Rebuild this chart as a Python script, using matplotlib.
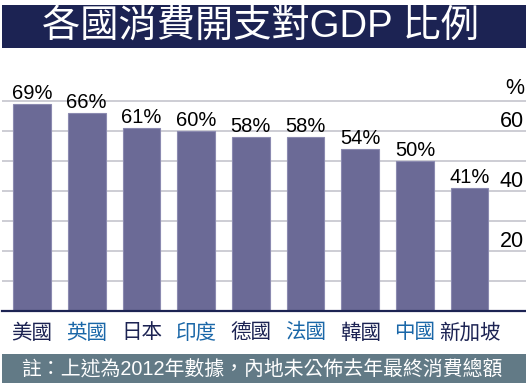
import matplotlib.pyplot as plt
from matplotlib.patches import Rectangle
from matplotlib.transforms import blended_transform_factory

# data
countries = ['美國', '英國', '日本', '印度', '德國', '法國', '韓國', '中國', '新加坡']
shares = [69, 66, 61, 60, 58, 58, 54, 50, 41]
grid_levels = [10, 20, 30, 40, 50, 60, 70]
tick_labels = [20, 40, 60]

title = '各國消費開支對GDP 比例'
note = '註：上述為2012年數據，內地未公佈去年最終消費總額'

cjk = ['Liberation Sans', 'Noto Sans CJK TC', 'DejaVu Sans']
latin = ['Liberation Sans', 'DejaVu Sans']
navy = '#1c2353'
blue = '#1a67a8'

W, H = 526, 386
fig = plt.figure(figsize=(W / 100, H / 100), dpi=100)
fig.patch.set_facecolor('white')

# title banner and footer band, in pixel terms
def px_rect(x0, y0, x1, y1, color):
  fig.patches.append(Rectangle((x0 / W, 1 - y1 / H), (x1 - x0) / W, (y1 - y0) / H,
                               transform=fig.transFigure, facecolor=color,
                               edgecolor='none', zorder=0))

px_rect(2, 5, 526, 48, navy)
px_rect(2, 354, 526, 383, '#627a86')
fig.text(261 / W, 1 - 27 / H, title, color='white', fontsize=27.5,
         family=cjk, ha='center', va='center')
fig.text(262 / W, 1 - 368.5 / H, note, color='white', fontsize=14.3,
         family=cjk, ha='center', va='center')

# axes: baseline at y=311px, 3px per percentage point
top_px = 60
ax = fig.add_axes([2 / W, (H - 311) / H, 524 / W, (311 - top_px) / H])
ax.set_ylim(0, (311 - top_px) / 3)
ax.set_xlim(-0.548, -0.548 + 524 / 54.7)

for lv in grid_levels:
  ax.axhline(lv, color='#c9c9d1', lw=1.3, zorder=1)

x = list(range(len(countries)))
ax.bar(x, shares, width=0.69, color='#6b6a96', edgecolor='#8b8ab0',
       linewidth=0.8, zorder=2)

for xi, v in zip(x, shares):
  ax.text(xi, v + 1.7, f'{v}%', ha='center', va='baseline', fontsize=14.5,
          family=latin, color='black')

trans = blended_transform_factory(ax.transAxes, ax.transData)
for t in tick_labels:
  ax.text(0.996, t + 1.3, str(t), transform=trans, ha='right', va='baseline',
          fontsize=15.5, family=latin)
ax.text(0.996, 72.5, '%', transform=trans, ha='right', va='baseline',
        fontsize=15.5, family=latin)

for xi, name in zip(x, countries):
  ax.text(xi, -7.3, name, ha='center', va='center', fontsize=14.8, family=cjk,
          color=blue if xi % 2 else navy, clip_on=False)

for side in ['top', 'left', 'right']:
  ax.spines[side].set_visible(False)
ax.spines['bottom'].set_color(navy)
ax.spines['bottom'].set_linewidth(1.6)
ax.set_xticks([])
ax.set_yticks([])
ax.set_facecolor('none')

fig.savefig('out.png', dpi=100)
